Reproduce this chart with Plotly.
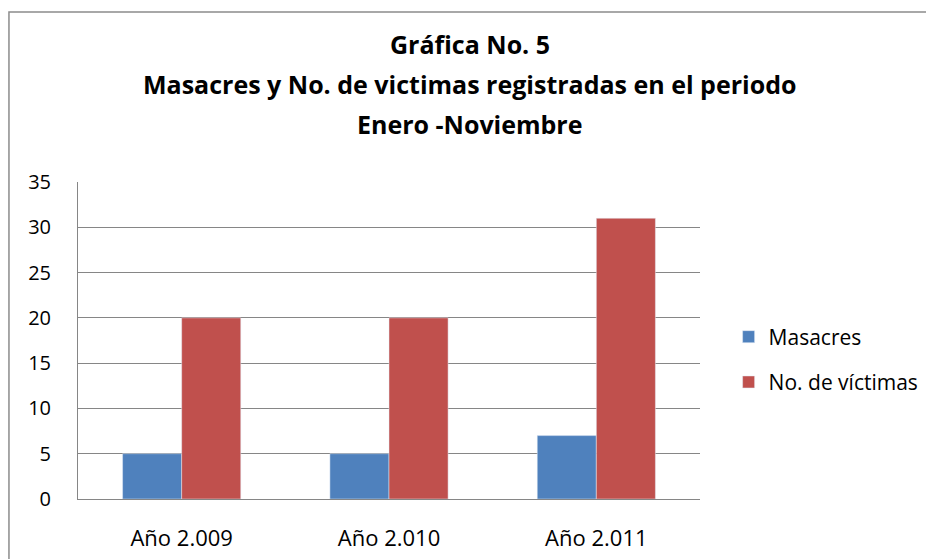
import plotly.graph_objects as go

# Data
categories = ["Año 2.009", "Año 2.010", "Año 2.011"]
masacres = [5, 5, 7]
victimas = [20, 20, 31]
title_lines = [
    "Gráfica No. 5",
    "Masacres y No. de victimas registradas en el periodo",
    "Enero -Noviembre",
]

font = "'Open Sans', Calibri, 'Noto Sans', sans-serif"

fig = go.Figure(
    [
        go.Bar(x=categories, y=masacres, name="Masacres",
               marker_color="#4F81BD", legendgroup="a"),
        go.Bar(x=categories, y=victimas, name="No. de víctimas",
               marker_color="#C0504D", legendgroup="b"),
    ]
)

# Title drawn as three lines to get the wide line spacing
for i, line in enumerate(title_lines):
    fig.add_annotation(
        text="<b>%s</b>" % line, xref="paper", yref="paper",
        x=0.63, y=[1.436, 1.31, 1.184][i], xanchor="center", yanchor="middle",
        showarrow=False, font=dict(family=font, size=25, color="#000000"),
    )

# Outer chart border
fig.add_shape(type="rect", xref="paper", yref="paper",
              x0=-0.111, x1=1.6, y0=-1, y1=1.536,
              line=dict(color="#8c8c8c", width=1.5), layer="below")

# page body has an 8px margin, so the figure is 8px smaller than the window
fig.update_layout(
    width=926, height=551,
    margin=dict(l=70, r=234, t=174, b=60, autoexpand=False),
    paper_bgcolor="white", plot_bgcolor="white",
    barmode="group", bargap=0.43, bargroupgap=0,
    font=dict(family=font, size=19, color="#000000"),
    showlegend=True,
    legend=dict(x=1.046, y=0.44, xanchor="left", yanchor="middle",
                tracegroupgap=15, traceorder="grouped",
                font=dict(family=font, size=21, color="#000000")),
)
fig.update_yaxes(range=[0, 35], dtick=5, showgrid=True, gridcolor="#868686",
                 gridwidth=1, showline=True, linecolor="#868686", ticks="",
                 ticklabelstandoff=22, zeroline=False, automargin=False,
                 tickfont=dict(size=20))
fig.update_xaxes(showline=True, linecolor="#868686", ticks="",
                 ticklabelstandoff=20, automargin=False, tickfont=dict(size=22))

fig.write_html("out.html")
